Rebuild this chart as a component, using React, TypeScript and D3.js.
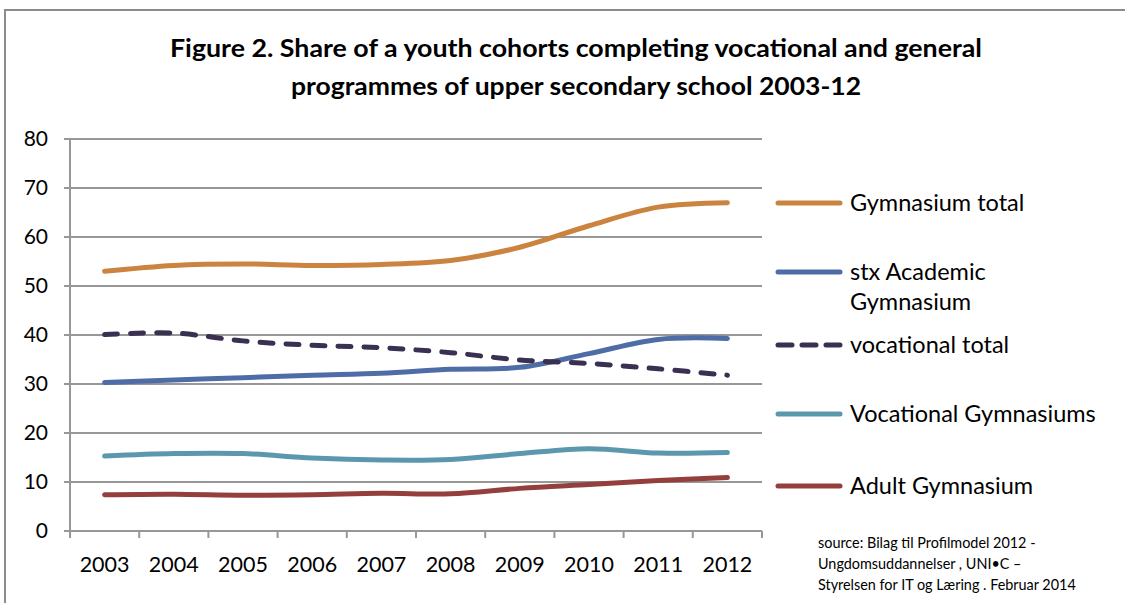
import React from 'react';
import * as d3 from 'd3';

const years = ['2003', '2004', '2005', '2006', '2007', '2008', '2009', '2010', '2011', '2012'];
const gymTotal = [53.0, 54.2, 54.5, 54.2, 54.4, 55.2, 57.9, 62.3, 66.1, 67.0];
const stxAcademic = [30.3, 30.8, 31.3, 31.8, 32.2, 33.0, 33.4, 36.2, 39.1, 39.3];
const vocTotal = [40.1, 40.4, 38.8, 37.9, 37.4, 36.4, 34.9, 34.2, 33.1, 31.8];
const vocGym = [15.3, 15.8, 15.8, 14.9, 14.5, 14.6, 15.8, 16.8, 15.9, 16.0];
const adultGym = [7.4, 7.5, 7.3, 7.4, 7.7, 7.6, 8.7, 9.5, 10.3, 10.9];
const yTicks = [0, 10, 20, 30, 40, 50, 60, 70, 80];

const series = [
  { name: ['Gymnasium total'], values: gymTotal, color: '#CB843F', dashed: false },
  { name: ['stx Academic', 'Gymnasium'], values: stxAcademic, color: '#4E6DA6', dashed: false },
  { name: ['vocational total'], values: vocTotal, color: '#3A3052', dashed: true },
  { name: ['Vocational Gymnasiums'], values: vocGym, color: '#5C98AD', dashed: false },
  { name: ['Adult Gymnasium'], values: adultGym, color: '#943F3D', dashed: false },
];
const legendY = [203, 272, 345, 414, 486];

const font = 'Lato, "Open Sans", sans-serif';

export default function App() {
  const W = 1125, H = 603;
  const left = 70, right = 762, top = 139, bottom = 531;
  const x = d3.scaleBand().domain(years).range([left, right]);
  const y = d3.scaleLinear().domain([0, 80]).range([bottom, top]);
  const line = d3.line<number>()
    .x((_, i) => (x(years[i]) as number) + x.bandwidth() / 2)
    .y(d => y(d))
    .curve(d3.curveCatmullRom.alpha(0.5));
  const edges = years.map(yr => x(yr) as number).concat([right]);

  return (
    <svg width={W} height={H} style={{ position: 'absolute', left: 0, top: 0, background: '#fff' }}>
      <path d={`M5,${H} V10 H${W}`} fill="none" stroke="#8c8c8c" strokeWidth={2} />
      <text x={576} y={57} textAnchor="middle" fontFamily={font} fontWeight="bold" fontSize={25} textLength={812} lengthAdjust="spacingAndGlyphs">
        Figure 2. Share of a youth cohorts completing vocational and general
      </text>
      <text x={576} y={95} textAnchor="middle" fontFamily={font} fontWeight="bold" fontSize={25} textLength={570} lengthAdjust="spacingAndGlyphs">
        programmes of upper secondary school 2003-12
      </text>

      {yTicks.map(t => (
        <g key={t}>
          <line x1={left - 6} x2={right} y1={y(t)} y2={y(t)} stroke="#979797" strokeWidth={2} />
          <text x={48} y={y(t) + 7} textAnchor="end" fontFamily={font} fontSize={21} fill="#000">{t}</text>
        </g>
      ))}
      <line x1={left} x2={left} y1={top} y2={bottom} stroke="#979797" strokeWidth={2} />
      {edges.map((e, i) => (
        <line key={i} x1={e} x2={e} y1={bottom} y2={bottom + 7} stroke="#979797" strokeWidth={2} />
      ))}
      {years.map(yr => (
        <text key={yr} x={(x(yr) as number) + x.bandwidth() / 2} y={572} textAnchor="middle" fontFamily={font} fontSize={21.5}>{yr}</text>
      ))}

      {series.map(s => (
        <path key={s.name[0]} d={line(s.values) || ''} fill="none" stroke={s.color} strokeWidth={5}
          strokeLinecap="round" strokeLinejoin="round" strokeDasharray={s.dashed ? '13 13' : undefined} />
      ))}

      {series.map((s, i) => (
        <g key={s.name[0]}>
          <line x1={778} x2={840} y1={legendY[i]} y2={legendY[i]} stroke={s.color} strokeWidth={5}
            strokeLinecap="round" strokeDasharray={s.dashed ? '14 10' : undefined} />
          {s.name.map((n, j) => (
            <text key={n} x={850} y={legendY[i] + 8 + j * 30} fontFamily={font} fontSize={23.5}>{n}</text>
          ))}
        </g>
      ))}

      {['source: Bilag til Profilmodel 2012 -', 'Ungdomsuddannelser , UNI\u2022C \u2013', 'Styrelsen for IT og L\u00e6ring . Februar 2014'].map((t, i) => (
        <text key={i} x={818} y={548 + i * 21} fontFamily={font} fontSize={14.4}>{t}</text>
      ))}
    </svg>
  );
}
